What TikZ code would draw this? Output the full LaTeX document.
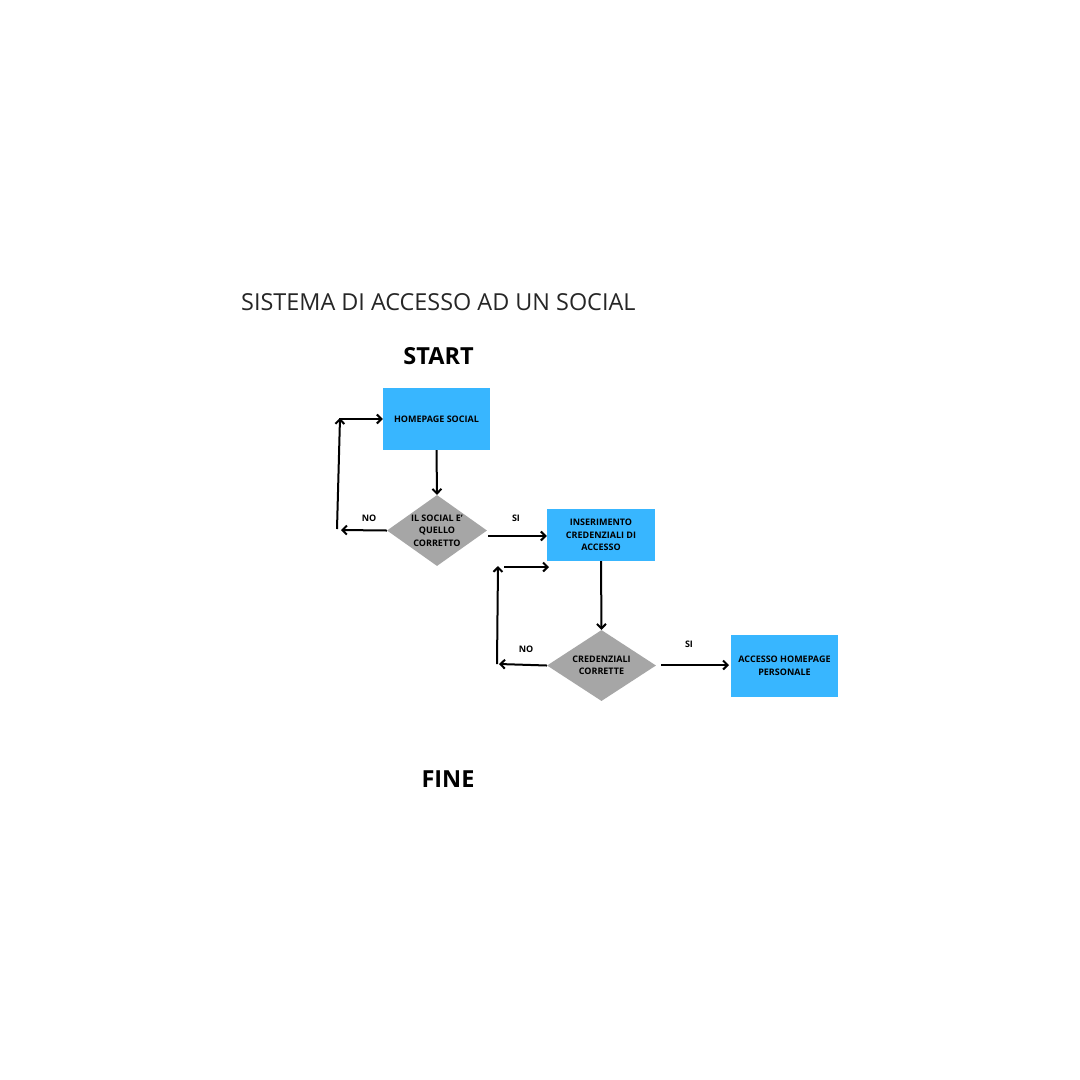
\documentclass[tikz,border=0pt]{standalone}
\usepackage{fontspec}
\setmainfont{Open Sans}
\usetikzlibrary{arrows.meta,shapes.geometric}
\definecolor{boxblue}{HTML}{38B6FF}
\definecolor{diagray}{HTML}{A6A6A6}
\tikzset{
  flowbox/.style={fill=boxblue, draw=none, inner sep=0pt, align=center,
    font=\fontsize{9}{12.5}\selectfont\bfseries},
  choice/.style={diamond, fill=diagray, draw=none, inner sep=0pt},
  choicetext/.style={align=center, inner sep=0pt, font=\fontsize{9}{12.5}\selectfont\bfseries},
  flowarrow/.style={line width=2pt, -{Straight Barb[length=4.5pt,width=9pt,line width=2pt]}},
  lbl/.style={font=\fontsize{9}{10}\selectfont\bfseries, inner sep=0pt},
  big/.style={font=\fontsize{23.5}{26}\selectfont\bfseries, inner sep=0pt},
}
\begin{document}
\begin{tikzpicture}[x=1pt,y=-1pt]
\useasboundingbox (0,0) rectangle (1080,1080);
\fill[white] (0,0) rectangle (1080,1080);
% texts
\node[font=\fontsize{23.4}{26}\selectfont, text=black!85, inner sep=0pt, anchor=west] (title) at (241,302) {SISTEMA DI ACCESSO AD UN SOCIAL};
\node[big] (start) at (438.5,356) {START};
\node[big] (fine) at (448,779) {FINE};
% boxes
\node[flowbox, minimum width=107pt, minimum height=62pt] (home) at (436.5,419) {HOMEPAGE SOCIAL};
\node[choice, minimum width=100pt, minimum height=71pt,
  label={[choicetext]center:{IL SOCIAL E'\\QUELLO\\CORRETTO}}] (d1) at (437,530.5) {};
\node[flowbox, minimum width=108pt, minimum height=52pt] (cred) at (601,535) {INSERIMENTO\\CREDENZIALI DI\\ACCESSO};
\node[choice, minimum width=109pt, minimum height=71pt,
  label={[choicetext]center:{CREDENZIALI\\CORRETTE}}] (d2) at (601.5,665.5) {};
\node[flowbox, minimum width=107pt, minimum height=62pt] (pers) at (784.5,666) {ACCESSO HOMEPAGE\\PERSONALE};
% helper coordinates
\coordinate (n1a) at (341,530);
\coordinate (n1b) at (337,529);
\coordinate (n1c) at (340,418);
\coordinate (n1d) at (339,419);
\coordinate (s1a) at (488,536);
\coordinate (n2a) at (499,664);
\coordinate (n2b) at (497,664);
\coordinate (n2c) at (498,566);
\coordinate (n2d) at (504,567);
\coordinate (c2) at (549,567);
\coordinate (s2a) at (661,665);
\coordinate (s2b) at (729,665);
% connectors
\draw[flowarrow] (home.south) -- (d1.north);
\draw[flowarrow] (d1.west) -- (n1a);
\draw[flowarrow] (n1b) -- (n1c);
\draw[flowarrow] (n1d) -- (home.west |- n1d);
\draw[flowarrow] (s1a) -- (cred.west |- s1a);
\draw[flowarrow] (cred.south) -- (d2.north);
\draw[flowarrow] (d2.west) -- (n2a);
\draw[flowarrow] (n2b) -- (n2c);
\draw[flowarrow] (n2d) -- (c2);
\draw[flowarrow] (s2a) -- (s2b);
% labels
\node[lbl] (no1) at (369,518) {NO};
\node[lbl] (si1) at (516,518) {SI};
\node[lbl] (no2) at (526,649) {NO};
\node[lbl] (si2) at (689,644) {SI};
\end{tikzpicture}
\end{document}
